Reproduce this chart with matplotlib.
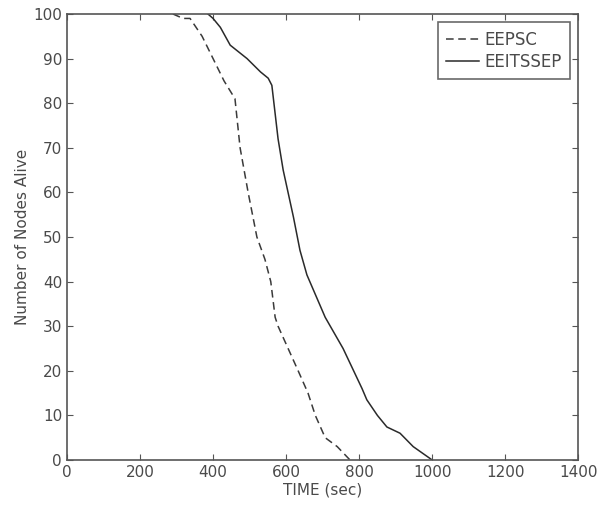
import matplotlib
matplotlib.use('Agg')
import matplotlib.pyplot as plt

# EEPSC (dashed)
eepsc_t = [290, 318, 337, 370, 400, 430, 460, 474, 496, 520, 542, 558, 570, 578, 600, 633, 660, 680, 707, 740, 775]
eepsc_n = [100, 99, 99, 95, 90, 85, 81, 70, 60, 50, 45, 40, 32, 30, 26, 20, 15, 10, 5, 3, 0]

# EEITSSEP (solid)
eeit_t = [386, 400, 420, 447, 493, 530, 551, 561, 578, 592, 620, 638, 657, 707, 756, 808, 821, 850, 876, 912, 948, 1000]
eeit_n = [100, 99, 97, 93, 90, 87, 85.6, 84, 72, 65, 54.5, 47, 41.5, 32, 25, 16, 13.5, 10, 7.4, 6, 3, 0]

xticks = [0, 200, 400, 600, 800, 1000, 1200, 1400]
yticks = [0, 10, 20, 30, 40, 50, 60, 70, 80, 90, 100]

plt.rcParams['font.family'] = ['Liberation Sans Narrow', 'DejaVu Sans']
txt = '#4a4a4a'

fig = plt.figure(figsize=(5.98, 5.08), dpi=100)
ax = fig.add_axes([0.112, 0.0945, 0.855, 0.878])
ax.plot(eepsc_t, eepsc_n, '--', color='#3a3a3a', lw=1.1, dashes=(5, 3), label='EEPSC')
ax.plot(eeit_t, eeit_n, '-', color='#2a2a2a', lw=1.1, label='EEITSSEP')

ax.set_xlim(0, 1400)
ax.set_ylim(0, 100)
ax.set_xticks(xticks)
ax.set_yticks(yticks)
ax.tick_params(direction='in', top=True, right=True, length=4, labelsize=11, colors='#555555', labelcolor=txt)
for s in ax.spines.values():
    s.set_color('#555555')
    s.set_linewidth(1.2)

ax.set_xlabel('TIME (sec)', fontsize=11, color=txt, labelpad=2)
ax.set_ylabel('Number of Nodes Alive', fontsize=11, color=txt, labelpad=2)

leg = ax.legend(loc='upper right', fontsize=12, handlelength=2.0, frameon=True, fancybox=False,
                edgecolor='#444444', borderpad=0.5, labelspacing=0.25, handletextpad=0.3,
                borderaxespad=0.5)
leg.get_frame().set_linewidth(1.2)
for t in leg.get_texts():
    t.set_color(txt)

plt.savefig('out.png', dpi=100)
plt.close()
